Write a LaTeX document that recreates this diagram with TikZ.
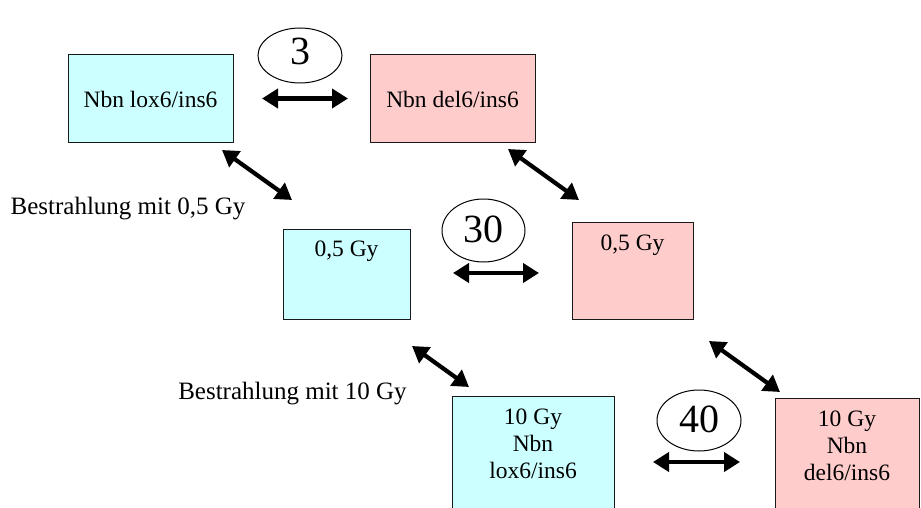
\documentclass[tikz,border=0pt]{standalone}
\usepackage{fontspec}
\setmainfont{Liberation Serif}
\usetikzlibrary{arrows.meta,shapes.geometric}
\definecolor{cyanbox}{HTML}{CCFFFF}
\definecolor{pinkbox}{HTML}{FFCCCC}
\begin{document}
\begin{tikzpicture}[x=1pt,y=-1pt,
  boxbase/.style={draw=black!90, line width=1.4pt, rectangle, inner sep=0pt, anchor=north west},
  cbox/.style={boxbase, fill=cyanbox},
  pbox/.style={boxbase, fill=pinkbox},
  btext/.style={font=\fontsize{23.5}{27}\selectfont, align=center, inner sep=0pt},
  ltext/.style={font=\fontsize{25}{29}\selectfont, inner sep=0pt},
  numell/.style={draw, ellipse, line width=1pt, inner sep=0pt},
  numtext/.style={inner sep=0pt, font=\fontsize{40}{44}\selectfont},
  dblarrow/.style={line width=4.2pt, {Triangle[length=16pt,width=19pt]}-{Triangle[length=16pt,width=19pt]}}
]
\useasboundingbox (0,0) rectangle (921,508);
\clip (0,0) rectangle (921,508);

% boxes
\node[cbox, minimum width=165pt, minimum height=88pt] (A) at (68,54) {};
\node[pbox, minimum width=165pt, minimum height=88pt] (B) at (370,54) {};
\node[cbox, minimum width=127pt, minimum height=90pt] (C) at (283,229) {};
\node[pbox, minimum width=121pt, minimum height=97pt] (D) at (572,222) {};
\node[cbox, minimum width=162pt, minimum height=130pt] (E) at (452,396) {};
\node[pbox, minimum width=144pt, minimum height=130pt] (F) at (775,398) {};

% box texts
\node[btext] (tA) at (150.5,99) {Nbn lox6/ins6};
\node[btext] (tB) at (452.5,99) {Nbn del6/ins6};
\node[btext, anchor=north] (tC) at (346.5,241) {0,5 Gy};
\node[btext, anchor=north] (tD) at (632.5,235) {0,5 Gy};
\node[btext, anchor=north] (tE) at (533,409) {10 Gy\\Nbn\\lox6/ins6};
\node[btext, anchor=north] (tF) at (847,411) {10 Gy\\Nbn\\del6/ins6};

% labels
\node[ltext] (l1) at (128,209) {Bestrahlung mit 0,5 Gy};
\node[ltext] (l2) at (292.5,394) {Bestrahlung mit 10 Gy};

% ellipses
\node[numell, minimum width=84pt, minimum height=55pt] (e1) at (300,55.5) {};
\node[numtext] (n1) at (300,51) {3};
\node[numell, minimum width=83pt, minimum height=63pt] (e2) at (483.5,230.5) {};
\node[numtext] (n2) at (483.5,229) {30};
\node[numell, minimum width=84pt, minimum height=61pt] (e3) at (699,420.5) {};
\node[numtext] (n3) at (699,419) {40};

% arrow endpoints
\coordinate (h1a) at (262,98.5);  \coordinate (h1b) at (348,98.5);
\coordinate (h2a) at (453,273);   \coordinate (h2b) at (539,273);
\coordinate (h3a) at (653,462);   \coordinate (h3b) at (740,462);
\coordinate (d1a) at (222,150);   \coordinate (d1b) at (292,200);
\coordinate (d2a) at (508,149);   \coordinate (d2b) at (579,200);
\coordinate (d3a) at (412,346);   \coordinate (d3b) at (469,387);
\coordinate (d4a) at (709,341);   \coordinate (d4b) at (780,392);

\draw[dblarrow] (h1a) -- (h1b);
\draw[dblarrow] (h2a) -- (h2b);
\draw[dblarrow] (h3a) -- (h3b);
\draw[dblarrow] (d1a) -- (d1b);
\draw[dblarrow] (d2a) -- (d2b);
\draw[dblarrow] (d3a) -- (d3b);
\draw[dblarrow] (d4a) -- (d4b);
\end{tikzpicture}
\end{document}
